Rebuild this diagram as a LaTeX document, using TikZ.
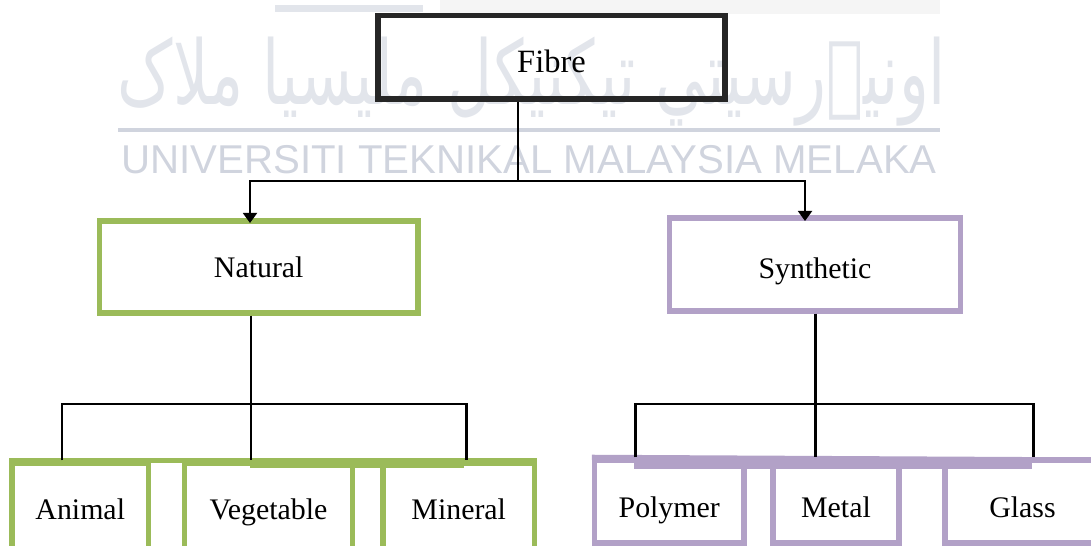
\documentclass[tikz,border=0pt]{standalone}
\usepackage{fontspec}
\setmainfont{Liberation Serif}
\newfontfamily\wmfont{Liberation Sans}
\newfontfamily\jawifont[Script=Arabic]{DejaVu Sans}
\TeXXeTstate=1
\usetikzlibrary{arrows.meta, calc}
\definecolor{natgreen}{HTML}{9BBB59}
\definecolor{synpurple}{HTML}{B2A1C7}
\definecolor{wmgray}{HTML}{D0D4DE}
\definecolor{wmlight}{HTML}{E2E5EB}
\tikzset{%
  box/.style={draw, line width=3pt, inner sep=0pt, text height=15pt, text depth=3.5pt,
              font=\fontsize{17}{20}\selectfont},
  natbox/.style={box, draw=natgreen},
  synbox/.style={box, draw=synpurple},
  lowtext/.style={text height=21.5pt, text depth=3.6pt},
  link/.style={line width=1.7pt},
  thinlink/.style={line width=1pt},
  down/.style={thinlink, -{Triangle[width=8pt, length=5.7pt]}},
}

\begin{document}
\begin{tikzpicture}[x=0.02cm, y=-0.02cm]
    \useasboundingbox (0,0) rectangle (1091,546);
    \clip (0,0) rectangle (1091,546);

    %watermark
    \fill[black!4] (440,0) rectangle (940,14);
    \fill[wmlight] (275,5) rectangle (423,12);
    \node[text=wmlight, font=\jawifont\fontsize{44}{50}\selectfont, inner sep=0pt,
          xscale=0.8, yscale=1.15] (jawi) at (532,82)
        {\beginR اونيۏرسيتي تيکنيکل مليسيا ملاک\endR};
    \draw[wmgray, line width=2.2pt] (118,130) -- (940,130);
    \node[text=wmgray, font=\wmfont\fontsize{22.9}{26}\selectfont, inner sep=0pt] (wmtext) at (529,160)
        {UNIVERSITI TEKNIKAL MALAYSIA MELAKA};

    %boxes
    \node[box, lowtext, draw=black!85, line width=3.4pt, minimum width=6.94cm, minimum height=1.67cm,
          font=\fontsize{18.5}{22}\selectfont] (fibre) at (551.5,57.25) {Fibre};
    \node[natbox, minimum width=6.37cm, minimum height=1.84cm] (natural) at (258.75,267) {Natural};
    \node[synbox, text height=19pt, minimum width=5.82cm, minimum height=1.86cm] (synthetic) at (815,264.5) {Synthetic};

    \node[natbox, minimum width=2.73cm, minimum height=1.84cm] (animal) at (80.25,509) {Animal};
    \node[natbox, minimum width=3.36cm, minimum height=1.84cm] (vegetable) at (268.5,509) {Vegetable};
    \node[natbox, minimum width=3.03cm, minimum height=1.84cm] (mineral) at (458.75,509) {Mineral};

    \node[synbox, lowtext, minimum width=2.99cm, minimum height=1.66cm] (polymer) at (669.25,501.5) {Polymer};
    \node[synbox, lowtext, minimum width=2.52cm, minimum height=1.66cm] (metal) at (836,501.5) {Metal};
    \node[synbox, lowtext, minimum width=3.10cm, minimum height=1.66cm] (glass) at (1022.5,501.5) {Glass};

    %top edges running over the gaps
    \draw[natgreen, line width=3pt] (animal.north west) -- (mineral.north east);
    \fill[natgreen] (250,459) rectangle (464,468);
    \draw[synpurple, line width=3pt] (polymer.north west) -- (1091,460);
    \fill[synpurple] (634,457) rectangle (1032,469);

    %fibre to natural and synthetic
    \coordinate (hub) at (518,181);
    \draw[thinlink] (518,0 |- fibre.south) -- (hub);
    \draw[down] (hub) -| (250,223);
    \draw[down] (hub) -| (805,221);

    %natural to its three kinds
    \coordinate (nhub) at (251,404);
    \draw[link] (251,0 |- natural.south) -- (251,0 |- vegetable.north);
    \draw[link] (62,0 |- animal.north) |- (nhub) -| (466,0 |- mineral.north);

    %synthetic to its three kinds
    \coordinate (shub) at (815,404);
    \draw[link] (815,0 |- synthetic.south) -- (815,0 |- metal.north);
    \draw[link] (635,0 |- polymer.north) |- (shub) -| (1033,0 |- glass.north);
\end{tikzpicture}
\end{document}
